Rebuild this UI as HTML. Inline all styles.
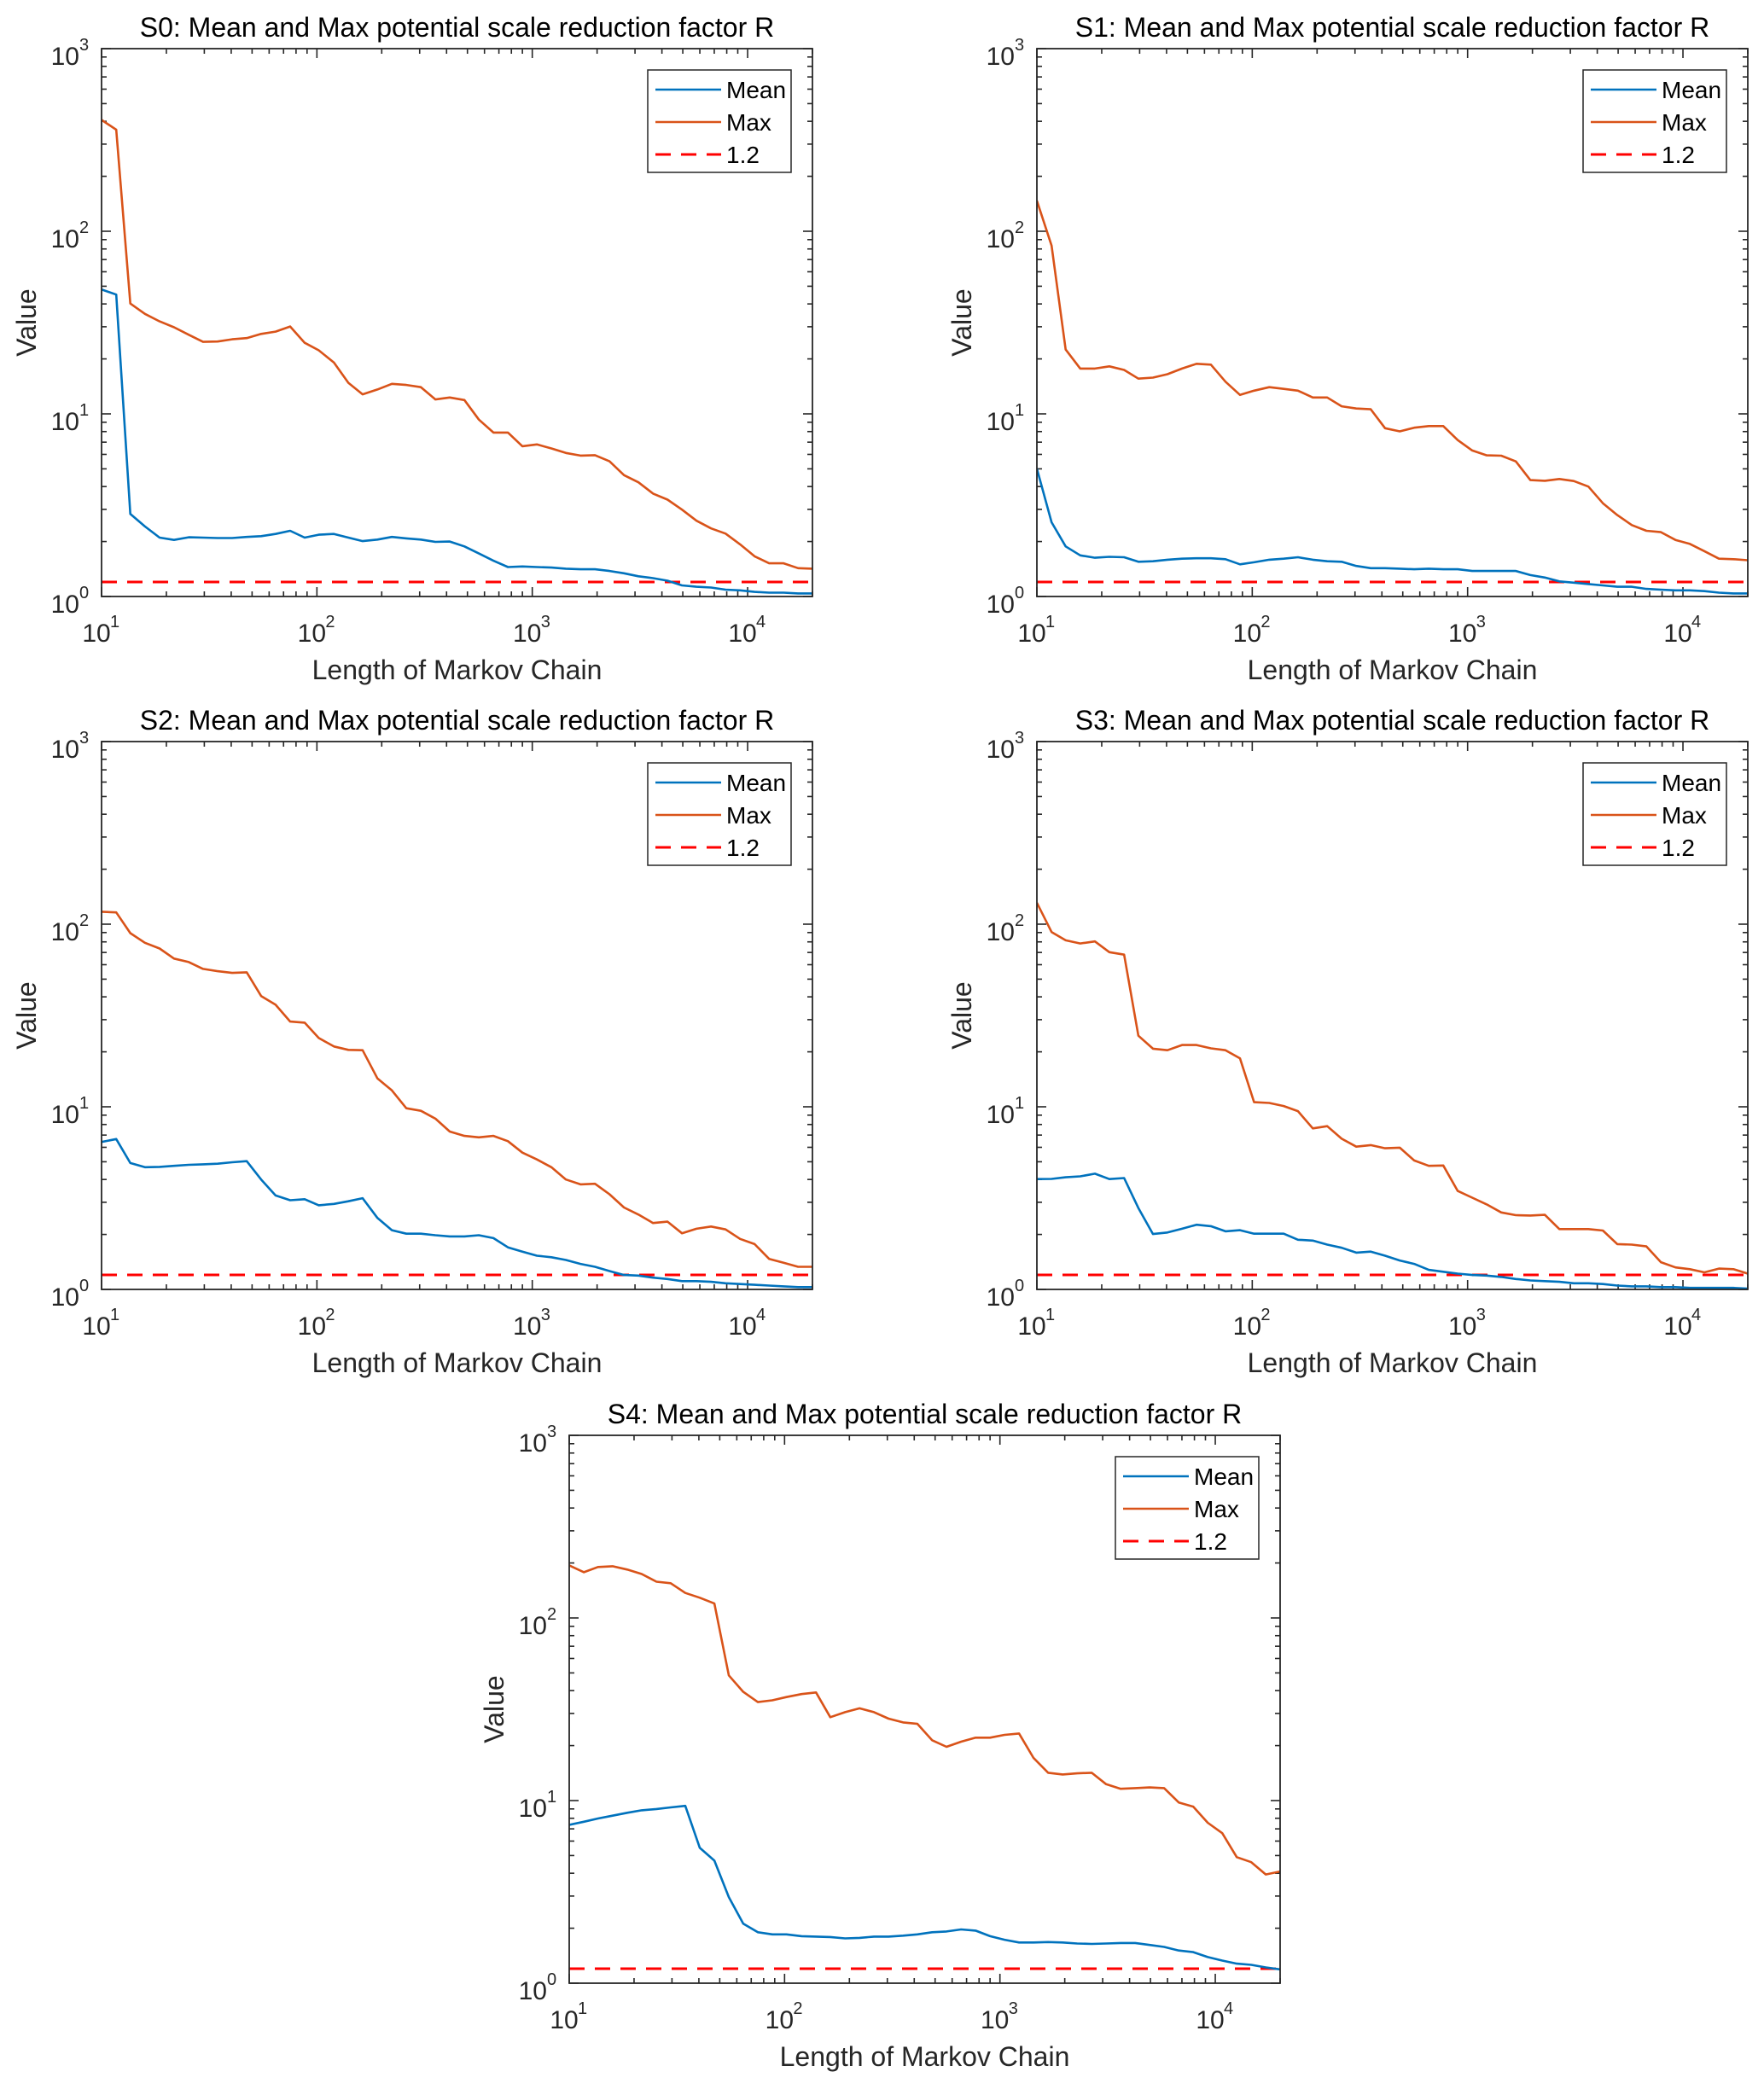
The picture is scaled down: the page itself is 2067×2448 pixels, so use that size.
<!DOCTYPE html>
<html><head><meta charset="utf-8"><style>
html,body{margin:0;padding:0;background:#fff;}
svg{display:block;font-family:"Liberation Sans",Arial,sans-serif;}
</style></head><body>
<svg id="fig" width="2067" height="2448" viewBox="0 0 2067 2448" xmlns="http://www.w3.org/2000/svg"></svg>
<script>
const chainLengths = [10,11.7,13.6,15.9,18.6,21.7,25.4,29.6,34.6,40.4,47.2,55.1,64.3,75.1,87.7,102,120,140,163,191,223,260,304,355,414,484,565,660,771,900,1051,1227,1433,1674,1955,2283,2666,3113,3636,4246,4958,5790,6762,7897,9222,10769,12576,14686,17151,20000];
const threshold = 1.2;
const xTickExps = [1,2,3,4];
const yTickExps = [0,1,2,3];
const panelNames = ["S0","S1","S2","S3","S4"];

const s0Mean = [48,45,2.83,2.42,2.10,2.04,2.11,2.10,2.09,2.09,2.12,2.14,2.2,2.29,2.10,2.18,2.2,2.10,2.01,2.05,2.12,2.08,2.05,1.99,2.0,1.88,1.72,1.57,1.45,1.46,1.45,1.44,1.42,1.41,1.41,1.38,1.34,1.29,1.26,1.22,1.15,1.13,1.12,1.09,1.08,1.06,1.05,1.05,1.04,1.04];
const s0Max = [407,360,40.2,35.3,32.1,29.8,27.1,24.8,24.9,25.6,26.0,27.4,28.2,30.1,24.5,22.3,19.1,14.8,12.8,13.6,14.6,14.4,14.0,12.0,12.3,11.9,9.3,7.9,7.9,6.65,6.8,6.47,6.11,5.91,5.94,5.50,4.62,4.22,3.66,3.39,2.99,2.60,2.36,2.21,1.93,1.66,1.52,1.52,1.43,1.42];
const s1Mean = [5.01,2.55,1.88,1.68,1.63,1.65,1.64,1.55,1.56,1.59,1.61,1.62,1.62,1.60,1.50,1.54,1.59,1.61,1.64,1.59,1.56,1.55,1.47,1.43,1.43,1.42,1.41,1.42,1.41,1.41,1.38,1.38,1.38,1.38,1.31,1.27,1.21,1.19,1.17,1.15,1.13,1.13,1.10,1.09,1.08,1.08,1.07,1.05,1.04,1.04];
const s1Max = [147,83.5,22.5,17.7,17.7,18.2,17.4,15.6,15.8,16.5,17.7,18.8,18.6,15.0,12.7,13.4,14.0,13.7,13.4,12.3,12.3,11.0,10.7,10.6,8.35,8.02,8.4,8.57,8.57,7.19,6.3,5.93,5.9,5.49,4.34,4.3,4.4,4.29,4.0,3.24,2.79,2.46,2.29,2.25,2.04,1.94,1.77,1.61,1.60,1.58];
const s2Mean = [6.42,6.66,4.92,4.67,4.69,4.75,4.81,4.84,4.88,4.97,5.04,4.0,3.27,3.08,3.12,2.89,2.94,3.04,3.16,2.46,2.11,2.02,2.02,1.98,1.95,1.95,1.98,1.91,1.70,1.61,1.53,1.50,1.45,1.38,1.33,1.26,1.20,1.19,1.16,1.14,1.11,1.11,1.10,1.08,1.07,1.06,1.05,1.04,1.03,1.03];
const s2Max = [117,116,89.3,79.1,73.6,64.8,62.0,56.9,55.3,54.1,54.5,40.4,36.2,29.3,28.9,23.8,21.4,20.5,20.4,14.3,12.3,9.82,9.51,8.61,7.32,6.93,6.80,6.93,6.48,5.61,5.15,4.67,4.0,3.76,3.79,3.32,2.81,2.57,2.31,2.35,2.03,2.15,2.21,2.13,1.89,1.77,1.47,1.40,1.33,1.33];
const s3Mean = [4.02,4.03,4.11,4.16,4.30,4.02,4.07,2.79,2.01,2.05,2.15,2.26,2.22,2.08,2.11,2.02,2.02,2.02,1.87,1.85,1.76,1.69,1.59,1.61,1.53,1.44,1.38,1.28,1.25,1.22,1.20,1.19,1.17,1.14,1.12,1.11,1.10,1.08,1.08,1.07,1.05,1.04,1.04,1.03,1.03,1.02,1.02,1.02,1.02,1.01];
const s3Max = [131,90.6,81.6,78.4,80.5,70.3,68.1,24.5,20.8,20.4,21.8,21.8,20.9,20.4,18.4,10.6,10.5,10.1,9.47,7.62,7.83,6.69,6.05,6.17,5.93,5.97,5.08,4.75,4.77,3.46,3.18,2.92,2.64,2.55,2.54,2.56,2.14,2.14,2.14,2.10,1.77,1.76,1.72,1.41,1.32,1.29,1.24,1.30,1.29,1.22];
const s4Mean = [7.36,7.66,7.98,8.27,8.57,8.85,8.99,9.18,9.35,5.51,4.69,2.96,2.12,1.90,1.85,1.85,1.81,1.80,1.79,1.76,1.77,1.80,1.80,1.82,1.85,1.90,1.92,1.97,1.94,1.81,1.73,1.67,1.67,1.68,1.67,1.65,1.64,1.65,1.66,1.66,1.62,1.58,1.51,1.48,1.39,1.33,1.28,1.26,1.22,1.19];
const s4Max = [194,178,190,192,184,174,158,155,137,129,120,48.5,39.4,34.6,35.4,36.9,38.3,39.1,28.6,30.5,32.0,30.5,28.1,26.8,26.3,21.4,19.7,21.0,22.1,22.1,22.9,23.3,17.1,14.2,13.9,14.1,14.2,12.3,11.6,11.7,11.8,11.7,9.77,9.26,7.56,6.63,4.90,4.60,3.94,4.09];

const meanSeries = [s0Mean,s1Mean,s2Mean,s3Mean,s4Mean];
const maxSeries = [s0Max,s1Max,s2Max,s3Max,s4Max];

const NS = "http://www.w3.org/2000/svg";
const svg = document.getElementById('fig');
const PW = 833, PH = 642;
const origins = [[119,57],[1215,57],[119,869],[1215,869],[667,1682]];
const XMIN = 1, XMAX = Math.log10(20000), YMIN = 0, YMAX = 3;
const AX = '#262626';

function mk(tag, attrs, parent){
  const e = document.createElementNS(NS, tag);
  for (const k in attrs) e.setAttribute(k, attrs[k]);
  (parent||svg).appendChild(e);
  return e;
}

panelNames.forEach((nm, p) => {
  const [L, T] = origins[p];
  const xs = v => L + (Math.log10(v) - XMIN) / (XMAX - XMIN) * PW;
  const ys = v => T + PH - (Math.log10(v) - YMIN) / (YMAX - YMIN) * PH;
  const g = mk('g', {});
  
  

  const t = mk('text', {x: L + PW/2, y: T - 14, 'font-size': 32, 'text-anchor': 'middle', fill: '#000'}, g);
  t.textContent = nm + ': Mean and Max potential scale reduction factor R';
  
  

  const cp = mk('clipPath', {id: 'clip' + p}, g);
  mk('rect', {x: L, y: T, width: PW, height: PH}, cp);

  const tk = mk('g', {stroke: AX, 'stroke-width': 1.6}, g);
  
  
  for (let e = 1; e <= 4; e++) {
    for (let m = 1; m <= 9; m++) {
      const v = m * Math.pow(10, e);
      if (v > 20000) continue;
      const x = xs(v);
      if (x < L - 0.5 || x > L + PW + 0.5) continue;
      const len = m === 1 ? 11 : 6;
      mk('line', {x1: x, y1: T + PH, x2: x, y2: T + PH - len}, tk);
      mk('line', {x1: x, y1: T, x2: x, y2: T + len}, tk);
    }
  }
  for (let e = 0; e <= 3; e++) {
    for (let m = 1; m <= 9; m++) {
      const v = m * Math.pow(10, e);
      if (v > 1000) continue;
      const y = ys(v);
      const len = m === 1 ? 11 : 6;
      mk('line', {x1: L, y1: y, x2: L + len, y2: y}, tk);
      mk('line', {x1: L + PW, y1: y, x2: L + PW - len, y2: y}, tk);
    }
  }

  const th = mk('line', {x1: L, x2: L + PW, y1: ys(threshold), y2: ys(threshold), stroke: '#FF0000', 'stroke-width': 3, 'stroke-dasharray': '18 12', 'clip-path': 'url(#clip' + p + ')'}, g);
  
  

  const mkLine = (arr, color, name) => {
    const d = arr.map((v, i) => (i ? 'L' : 'M') + xs(chainLengths[i]).toFixed(1) + ',' + ys(v).toFixed(1)).join('');
    const pth = mk('path', {d: d, fill: 'none', stroke: color, 'stroke-width': 2.6, 'stroke-linejoin': 'round', 'clip-path': 'url(#clip' + p + ')'}, g);
    
    
  };
  mkLine(maxSeries[p], '#D95319', 'max-line');
  mkLine(meanSeries[p], '#0072BD', 'mean-line');

  const box = mk('rect', {x: L, y: T, width: PW, height: PH, fill: 'none', stroke: AX, 'stroke-width': 1.8}, g);
  
  

  xTickExps.forEach(e => {
    const x = xs(Math.pow(10, e));
    const tx = mk('text', {x: x - 6, y: T + PH + 53, 'font-size': 30, 'text-anchor': 'middle', fill: AX}, g);
    tx.textContent = '10';
    
    
    const sp = mk('text', {x: x + 10, y: T + PH + 36, 'font-size': 20, fill: AX}, g);
    sp.textContent = String(e);
    
    
  });
  yTickExps.forEach(e => {
    const y = ys(Math.pow(10, e));
    const tx = mk('text', {x: L - 26, y: y + 19, 'font-size': 30, 'text-anchor': 'end', fill: AX}, g);
    tx.textContent = '10';
    
    
    const sp = mk('text', {x: L - 26, y: y + 2, 'font-size': 20, fill: AX}, g);
    sp.textContent = String(e);
    
    
  });

  const xl = mk('text', {x: L + PW/2, y: T + PH + 97, 'font-size': 32, 'text-anchor': 'middle', fill: AX}, g);
  xl.textContent = 'Length of Markov Chain';
  
  
  const yl = mk('text', {x: 0, y: 0, 'font-size': 32, 'text-anchor': 'middle', fill: AX, transform: 'translate(' + (L - 77) + ',' + (T + PH/2) + ') rotate(-90)'}, g);
  yl.textContent = 'Value';
  
  

  const lx = L + PW - 25 - 168, ly = T + 25;
  const lg = mk('g', {}, g);
  
  
  mk('rect', {x: lx, y: ly, width: 168, height: 120, fill: '#fff', stroke: AX, 'stroke-width': 1.5}, lg);
  const entries = [['Mean', '#0072BD', null], ['Max', '#D95319', null], ['1.2', '#FF0000', '18 12']];
  entries.forEach((en, i) => {
    const ry = ly + 23 + i * 38;
    const ent = mk('g', {}, lg);
    
    
    const ln = mk('line', {x1: lx + 9, x2: lx + 86, y1: ry, y2: ry, stroke: en[1], 'stroke-width': en[2] ? 3 : 2.6}, ent);
    if (en[2]) ln.setAttribute('stroke-dasharray', en[2]);
    const lt = mk('text', {x: lx + 92, y: ry + 10, 'font-size': 28, fill: '#000'}, ent);
    lt.textContent = en[0];
  });
});
</script>
</body></html>
